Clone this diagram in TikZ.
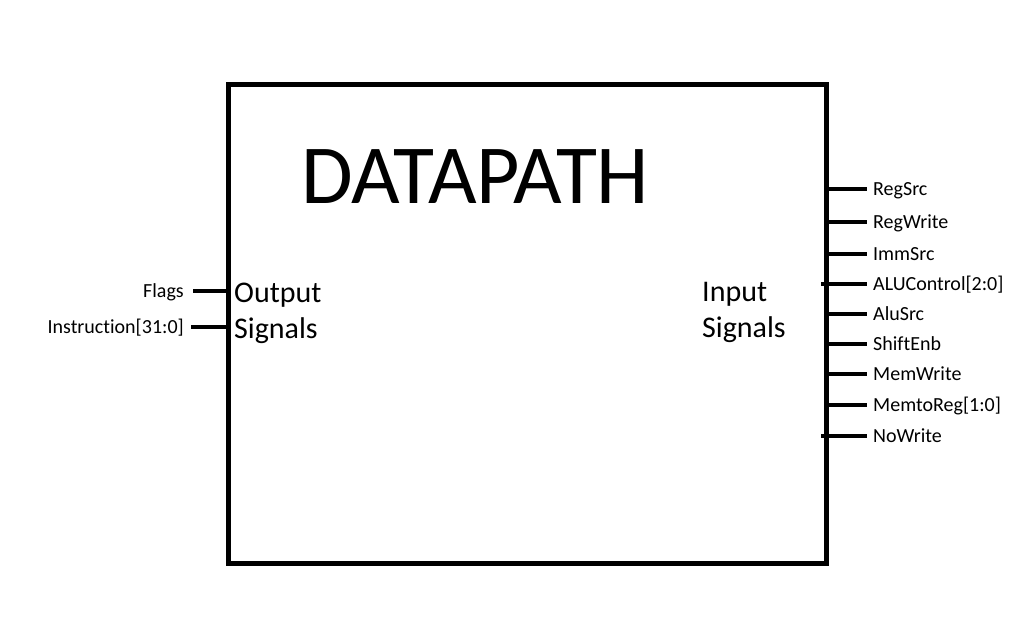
\documentclass[tikz,border=0pt]{standalone}
\usepackage{fontspec}
\setmainfont[Ligatures=NoCommon]{Carlito}
\begin{document}
\begin{tikzpicture}[x=1pt,y=-1pt,
  sig/.style={line width=4.5pt},
  lbl/.style={inner sep=0pt,font=\fontsize{20}{24}\selectfont},
  big/.style={inner sep=0pt,align=left,font=\fontsize{30}{36}\selectfont}]
\useasboundingbox[fill=white] (0,0) rectangle (1026,618);
\node[draw,line width=5pt,minimum width=598pt,minimum height=478pt,inner sep=0pt] (box) at (527,324) {};
\node[inner sep=0pt,anchor=base west,font=\fontsize{84}{96}\selectfont] (title) at (301,203) {DATAPATH};
\node[big,anchor=base west] (out) at (234,338) {Output\\Signals};
\node[big,anchor=base west] (in) at (702,337) {Input\\Signals};
% left outputs
\coordinate (fl) at (193,291);
\coordinate (ins) at (191,327);
\draw[sig] (box.west |- fl) -- (fl);
\draw[sig] (box.west |- ins) -- (ins);
\node[lbl,anchor=base east] (flt) at (184,297) {Flags};
\node[lbl,anchor=base east] (inst) at (184,333) {Instruction[31:0]};
% right inputs
\foreach \n/\y/\t/\s in {a/189/RegSrc/826, b/222/RegWrite/826, c/254/ImmSrc/826, d/284/ALUControl[2:0]/821, e/314/AluSrc/826, f/344/ShiftEnb/826, g/374/MemWrite/826, h/405/MemtoReg[1:0]/826, i/436/NoWrite/821}{
  \coordinate (s\n) at (867,\y);
  \coordinate (t\n) at (\s,\y);
  \draw[sig] (t\n) -- (s\n);
  \node[lbl,anchor=base west] (l\n) at (873,\y+6) {\t};
}
\end{tikzpicture}
\end{document}
